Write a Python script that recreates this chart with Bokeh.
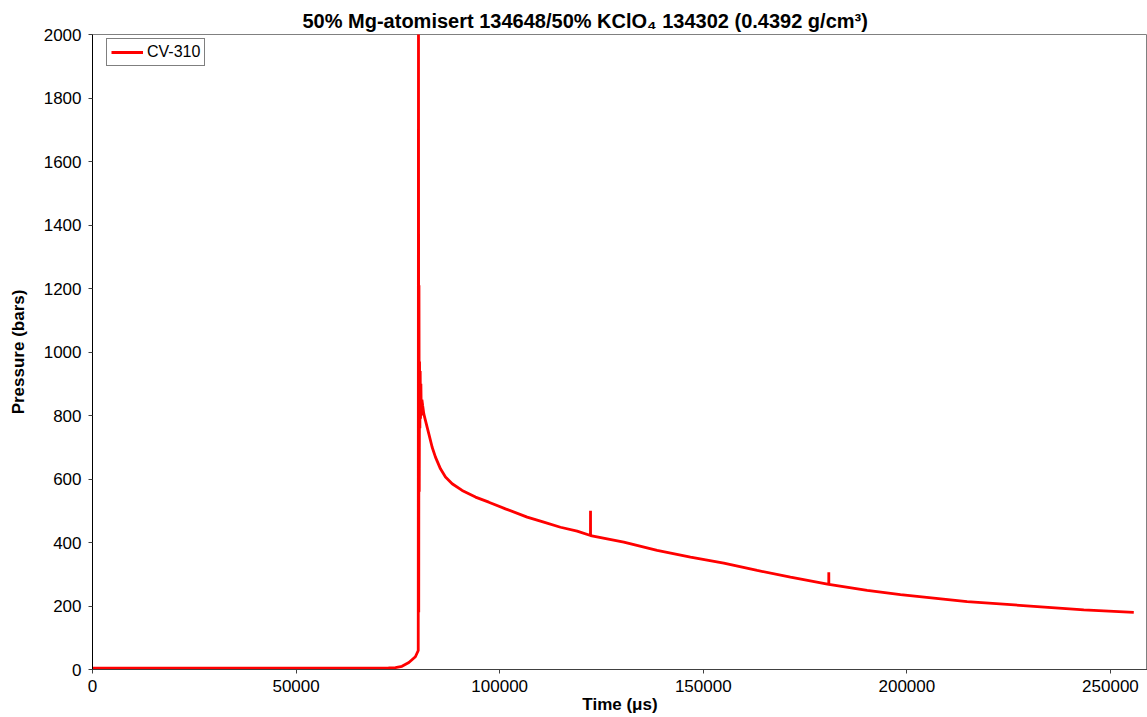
from bokeh.plotting import figure
from bokeh.models import Range1d, FixedTicker, Legend, LegendItem, BasicTickFormatter
from bokeh.embed import file_html
from bokeh.resources import INLINE

# ---- data ----
time_us = [0, 10000, 20000, 30000, 40000, 50000, 60000, 70000, 72700, 74400, 76000,
           77700, 79300, 80000, 80060, 80120, 80180, 80250, 80320, 80400, 80480,
           80560, 80650, 80750, 80900, 81100, 81370, 81780, 82600, 83420, 84230,
           85460, 86690, 88330, 90780, 94060, 97330, 101420, 106750, 110830, 114930,
           119030, 122300, 122310, 122320, 130480, 138670, 146860, 155040, 163240,
           171410, 180820, 180830, 180840, 190250, 198430, 214800, 231170, 243450,
           255730]
pressure_bar = [4, 4, 4, 4, 4, 4, 4, 4, 5, 6, 10,
                22, 40, 60, 2150, 180, 1210, 560, 970, 760, 940,
                790, 900, 800, 850, 830, 805, 784, 742, 700, 669,
                632, 606, 585, 564, 543, 527, 506, 480, 464, 448,
                436, 422, 500, 422, 401, 375, 354, 335, 312,
                291, 268, 306, 268, 249, 236, 214, 199, 188,
                180]

series_name = "CV-310"
x_ticks = [0, 50000, 100000, 150000, 200000, 250000]
y_ticks = [0, 200, 400, 600, 800, 1000, 1200, 1400, 1600, 1800, 2000]

FONT = "Liberation Sans"

p = figure(width=1147, height=717, output_backend="svg", toolbar_location=None,
           x_range=Range1d(0, 259100), y_range=Range1d(0, 2000),
           min_border_left=92, min_border_right=0, min_border_top=34,
           min_border_bottom=48)

p.title.text = "50% Mg-atomisert 134648/50% KClO\u2084 134302 (0.4392 g/cm\u00b3)"
p.title.text_font = FONT
p.title.text_font_size = "20px"
p.title.text_font_style = "bold"
p.title.text_color = "black"
p.title.align = "left"
p.title.offset = 210
p.title.standoff = 5

p.grid.visible = False
p.outline_line_color = "#808080"
p.outline_line_width = 1
p.background_fill_color = "white"
p.border_fill_color = "white"

r = p.line(time_us, pressure_bar, line_color="#ff0000", line_width=2.8)

# axes
p.xaxis.ticker = FixedTicker(ticks=x_ticks)
p.yaxis.ticker = FixedTicker(ticks=y_ticks)
p.xaxis.formatter = BasicTickFormatter(use_scientific=False)
for ax in (p.xaxis[0], p.yaxis[0]):
    ax.major_label_text_font = FONT
    ax.major_label_text_font_size = "17px"
    ax.major_label_text_color = "black"
    ax.axis_label_text_font = FONT
    ax.axis_label_text_font_size = "17px"
    ax.axis_label_text_font_style = "bold"
    ax.axis_label_text_color = "black"
    ax.minor_tick_line_color = None
    ax.major_tick_in = 0
    ax.major_tick_out = 4
    ax.major_tick_line_color = "#404040"

p.xaxis.axis_label = "Time (\u03bcs)"
p.xaxis.axis_line_color = "#404040"
p.xaxis.major_label_standoff = 6
p.xaxis.axis_label_standoff = 0

p.yaxis.axis_label = "Pressure (bars)"
p.yaxis.axis_line_color = "black"
p.yaxis.major_label_standoff = 7
p.yaxis.axis_label_standoff = 13

legend = Legend(items=[LegendItem(label=series_name, renderers=[r])],
                location=(14, 603), orientation="vertical")
legend.label_text_font = FONT
legend.label_text_font_size = "16px"
legend.label_text_color = "black"
legend.border_line_color = "black"
legend.border_line_width = 1
legend.glyph_width = 32
legend.glyph_height = 16
legend.padding = 4
legend.margin = 0
legend.spacing = 0
legend.label_standoff = 4
legend.label_height = 16
p.add_layout(legend, "center")

open("out.html", "w").write(file_html(p, INLINE))
